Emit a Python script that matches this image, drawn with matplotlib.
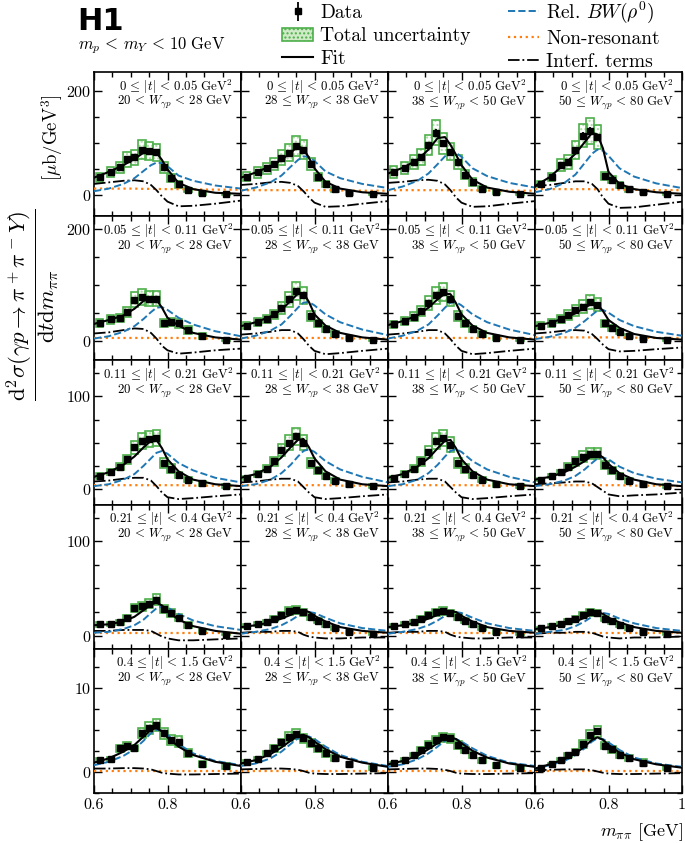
import matplotlib
matplotlib.use('Agg')
import matplotlib.pyplot as plt
from matplotlib.patches import Rectangle, Patch
from matplotlib.lines import Line2D
from matplotlib.ticker import MultipleLocator, FixedLocator, FixedFormatter

plt.rcParams['font.family'] = ['cmr10', 'DejaVu Serif']
plt.rcParams['mathtext.fontset'] = 'cm'
plt.rcParams['axes.formatter.use_mathtext'] = True
plt.rcParams['hatch.linewidth'] = 1.0

# ---------------- data ----------------
m_bins = [0.615, 0.645, 0.67, 0.69, 0.71, 0.73, 0.75, 0.77, 0.79, 0.81, 0.83, 0.855, 0.895, 0.96]
m_curve = [0.60, 0.64, 0.68, 0.71, 0.735, 0.755, 0.77, 0.785, 0.80, 0.83, 0.87, 0.93, 1.00]

t_labels = [r'0 \,\leq\, |t| \,<\, 0.05', r'0.05 \,\leq\, |t| \,<\, 0.11', r'0.11 \,\leq\, |t| \,<\, 0.21',
            r'0.21 \,\leq\, |t| \,<\, 0.4', r'0.4 \,\leq\, |t| \,<\, 1.5']
w_labels = [r'20 \,<\, W_{\gamma p} \,<\, 28', r'28 \,\leq\, W_{\gamma p} \,<\, 38',
            r'38 \,\leq\, W_{\gamma p} \,<\, 50', r'50 \,\leq\, W_{\gamma p} \,<\, 80']

# data points (rows = |t| bins, columns = W bins)
data_r1 = [[35, 45, 54, 69, 73, 88, 85, 83, 54, 34, 21, 10, 4, 3],
           [36, 44, 52, 60, 72, 82, 95, 88, 60, 36, 22, 12, 5, 3],
           [45, 53, 64, 74, 96, 120, 100, 84, 64, 40, 26, 13, 6, 3],
           [22, 36, 58, 64, 87, 115, 124, 112, 38, 30, 20, 12, 6, 3]]
data_r2 = [[33, 39, 42, 52, 74, 79, 76, 76, 33, 34, 32, 20, 9, 3],
           [28, 34, 40, 48, 60, 75, 90, 82, 45, 32, 22, 13, 6, 3],
           [30, 36, 44, 54, 68, 82, 88, 76, 45, 32, 22, 13, 6, 3],
           [28, 33, 40, 47, 55, 62, 70, 65, 32, 24, 17, 10, 5, 3]]
data_r3 = [[14, 18, 24, 32, 45, 52, 54, 55, 28, 22, 15, 10, 6, 3],
           [12, 16, 22, 30, 42, 50, 57, 50, 28, 20, 14, 9, 5, 3],
           [12, 16, 22, 30, 40, 52, 55, 48, 28, 22, 15, 10, 5, 3],
           [10, 14, 18, 24, 30, 35, 38, 38, 26, 20, 14, 9, 5, 3]]
data_r4 = [[12, 12, 14, 19, 29, 31, 34, 38, 28, 24, 19, 11, 5, 1],
           [10, 12, 14, 18, 22, 26, 27, 25, 20, 16, 12, 8, 4, 2],
           [10, 12, 14, 18, 22, 25, 26, 24, 20, 16, 12, 8, 4, 2],
           [8, 10, 12, 15, 18, 22, 25, 24, 18, 15, 11, 8, 4, 2]]
data_r5 = [[1.4, 1.5, 2.8, 3.1, 2.8, 4.6, 5.2, 5.6, 4.6, 3.8, 3.6, 2.2, 0.95, 0.7],
           [1.2, 1.5, 2.2, 2.8, 3.5, 4.2, 4.5, 4.0, 3.4, 2.8, 2.2, 1.6, 0.9, 0.5],
           [1.0, 1.4, 2.0, 2.6, 3.2, 3.8, 4.1, 4.0, 3.2, 2.6, 2.0, 1.4, 0.8, 0.5],
           [0.44, 0.95, 1.4, 2.0, 2.4, 3.3, 4.4, 4.8, 3.1, 2.7, 2.0, 1.6, 1.1, 0.44]]

# relative total uncertainty and relative statistical error per |t| row
tot_rel = [[0.25, 0.22, 0.2, 0.2, 0.2, 0.2, 0.2, 0.2, 0.2, 0.22, 0.28, 0.4, 0.7, 0.8],
           [0.22, 0.2, 0.18, 0.18, 0.18, 0.18, 0.18, 0.18, 0.2, 0.2, 0.25, 0.35, 0.6, 0.8],
           [0.2, 0.18, 0.16, 0.16, 0.16, 0.16, 0.16, 0.16, 0.18, 0.2, 0.22, 0.3, 0.5, 0.7],
           [0.2, 0.18, 0.16, 0.16, 0.15, 0.15, 0.15, 0.15, 0.16, 0.18, 0.2, 0.28, 0.45, 0.8],
           [0.18, 0.16, 0.14, 0.14, 0.13, 0.13, 0.13, 0.13, 0.14, 0.15, 0.17, 0.22, 0.35, 0.5]]
stat_rel = [0.06, 0.06, 0.06, 0.06, 0.05]

# fit and components
fit_r1 = [[34, 45, 58, 70, 82, 87, 82, 68, 50, 24, 12, 5, 3],
          [34, 44, 56, 68, 82, 94, 90, 72, 52, 26, 13, 6, 3],
          [42, 53, 68, 88, 110, 112, 97, 78, 58, 30, 15, 7, 3],
          [18, 35, 60, 80, 102, 120, 117, 90, 45, 22, 12, 6, 3]]
bw_r1 = [[8, 13, 22, 33, 47, 58, 63, 62, 56, 38, 28, 19, 13],
         [9, 15, 25, 38, 55, 68, 75, 74, 66, 46, 33, 22, 14],
         [10, 17, 28, 42, 60, 75, 83, 82, 74, 52, 37, 24, 15],
         [6, 12, 24, 40, 62, 80, 88, 86, 76, 52, 36, 23, 14]]
nr_r1 = [[13, 13, 13, 13, 12.5, 12.5, 12.5, 12, 12, 12, 11.5, 11, 11],
         [10, 10, 10, 10, 10, 10, 10, 10, 10, 10, 9.5, 9, 9],
         [10, 10, 10, 10, 10, 10, 10, 10, 10, 10, 9.5, 9, 9],
         [12, 12, 12, 12, 12, 12, 11.5, 11.5, 11.5, 11, 10.5, 10, 10]]
int_r1 = [[22, 25, 28, 29, 27, 20, 10, -2, -12, -21, -20, -16, -10],
          [20, 22, 25, 26, 24, 18, 8, -4, -14, -22, -21, -16, -11],
          [24, 26, 29, 30, 28, 21, 10, -4, -14, -22, -21, -16, -11],
          [18, 20, 24, 27, 27, 22, 12, -4, -16, -24, -23, -18, -12]]

fit_r2 = [[31, 38, 46, 58, 72, 78, 74, 60, 42, 28, 15, 7, 3],
          [27, 34, 44, 56, 72, 85, 86, 70, 48, 28, 15, 7, 3],
          [29, 36, 46, 60, 75, 85, 84, 68, 48, 28, 15, 7, 3],
          [27, 33, 41, 50, 60, 67, 66, 54, 38, 24, 13, 6, 3]]
bw_r2 = [[5, 9, 17, 27, 40, 52, 60, 61, 56, 42, 30, 18, 9],
         [5, 10, 19, 30, 46, 60, 69, 70, 64, 48, 34, 21, 11],
         [5, 10, 19, 30, 46, 60, 69, 70, 64, 48, 34, 21, 11],
         [4, 8, 15, 24, 36, 47, 55, 56, 51, 38, 27, 17, 10]]
nr_r2 = [[6, 6, 6, 6, 6, 6, 6, 6, 6, 6, 5.5, 5, 5],
         [6, 6, 6, 6, 6, 6, 6, 6, 6, 6, 5.5, 5, 5],
         [6, 6, 6, 6, 6, 6, 6, 6, 6, 6, 5.5, 5, 5],
         [7, 7, 7, 7, 7, 7, 7, 7, 7, 7, 6.5, 6, 6]]
int_r2 = [[14, 16, 20, 23, 22, 15, 5, -8, -16, -22, -20, -16, -13],
          [12, 14, 17, 20, 20, 14, 4, -8, -17, -23, -21, -17, -13],
          [12, 14, 17, 20, 20, 14, 4, -8, -17, -23, -21, -17, -13],
          [14, 16, 19, 20, 19, 13, 4, -6, -14, -18, -17, -14, -11]]

fit_r3 = [[13, 18, 26, 35, 45, 52, 53, 44, 32, 19, 10, 5, 3],
          [12, 16, 24, 34, 45, 53, 54, 45, 33, 19, 10, 5, 3],
          [12, 16, 24, 33, 44, 52, 53, 44, 32, 19, 10, 5, 3],
          [10, 13, 18, 24, 30, 36, 38, 34, 27, 17, 10, 5, 3]]
bw_r3 = [[3, 5, 10, 16, 25, 33, 39, 41, 38, 28, 20, 12, 7],
         [3, 5, 10, 17, 26, 35, 41, 43, 40, 30, 21, 13, 7],
         [3, 5, 10, 17, 26, 35, 41, 43, 40, 30, 21, 13, 7],
         [3, 5, 9, 14, 21, 28, 33, 34, 32, 24, 17, 11, 7]]
nr_r3 = [[4, 4, 4, 4, 4, 4, 4, 4, 4, 4, 3.5, 3.5, 3],
         [4, 4, 4, 4, 4, 4, 4, 4, 4, 4, 3.5, 3.5, 3],
         [4, 4, 4, 4, 4, 4, 4, 4, 4, 4, 3.5, 3.5, 3],
         [4, 4, 4, 4, 4, 4, 4, 4, 4, 4, 3.5, 3.5, 3]]
int_r3 = [[8, 9, 11, 12, 12, 9, 3, -4, -9, -11, -10, -8, -6],
          [7, 8, 10, 11, 11, 8, 2, -4, -9, -11, -10, -8, -6],
          [7, 8, 10, 11, 11, 8, 2, -4, -9, -11, -10, -8, -6],
          [5, 6, 7, 8, 8, 6, 2, -2, -6, -8, -7, -6, -4]]

fit_r4 = [[11, 12, 15, 20, 27, 33, 35, 32, 26, 17, 10, 5, 2],
          [9, 11, 14, 18, 22, 26, 27, 25, 21, 15, 9, 5, 3],
          [9, 11, 14, 18, 22, 25, 26, 25, 21, 15, 9, 5, 3],
          [7, 9, 12, 15, 19, 23, 25, 23, 19, 14, 9, 5, 3]]
bw_r4 = [[3, 4, 7, 11, 17, 24, 29, 31, 30, 23, 16, 10, 6],
         [2, 4, 7, 11, 16, 21, 24, 25, 24, 19, 13, 8, 5],
         [2, 4, 7, 11, 16, 21, 24, 25, 24, 19, 13, 8, 5],
         [2, 4, 6, 10, 15, 20, 23, 24, 23, 18, 13, 8, 5]]
nr_r4 = [[3, 3, 3, 3, 3, 3, 3, 3, 3, 3, 3, 3, 3],
         [3, 3, 3, 3, 3, 3, 3, 3, 3, 3, 3, 3, 3],
         [3, 3, 3, 3, 3, 3, 3, 3, 3, 3, 3, 3, 3],
         [3, 3, 3, 3, 3, 3, 3, 3, 3, 3, 3, 3, 3]]
int_r4 = [[5, 5, 6, 6, 6, 5, 2, -1, -3, -5, -5, -4, -3],
          [3, 4, 4, 5, 5, 4, 1, -1, -2, -3, -3, -2, -2],
          [3, 4, 4, 5, 5, 4, 1, -1, -2, -3, -3, -2, -2],
          [2, 3, 3, 4, 4, 3, 1, -1, -2, -3, -2, -2, -1]]

fit_r5 = [[1.1, 1.6, 2.4, 3.2, 4.2, 5.0, 5.2, 4.8, 4.1, 3.0, 2.0, 1.2, 0.7],
          [1.0, 1.4, 2.1, 2.9, 3.7, 4.3, 4.4, 4.1, 3.6, 2.7, 1.8, 1.1, 0.6],
          [0.9, 1.3, 1.9, 2.7, 3.4, 4.0, 4.1, 3.9, 3.4, 2.5, 1.7, 1.0, 0.6],
          [0.4, 0.9, 1.5, 2.2, 3.0, 3.8, 4.1, 3.8, 3.2, 2.3, 1.5, 0.9, 0.5]]
bw_r5 = [[0.8, 1.2, 1.9, 2.7, 3.7, 4.6, 5.0, 4.9, 4.4, 3.3, 2.2, 1.3, 0.8],
         [0.7, 1.0, 1.6, 2.4, 3.3, 4.0, 4.3, 4.2, 3.9, 3.0, 2.0, 1.2, 0.7],
         [0.6, 0.9, 1.5, 2.2, 3.0, 3.7, 4.0, 3.9, 3.6, 2.8, 1.9, 1.1, 0.7],
         [0.4, 0.8, 1.3, 2.0, 2.8, 3.6, 4.0, 3.9, 3.5, 2.6, 1.7, 1.0, 0.6]]
nr_r5 = [[0.1, 0.1, 0.1, 0.1, 0.1, 0.1, 0.1, 0.1, 0.1, 0.1, 0.1, 0.1, 0.1],
         [0.1, 0.1, 0.1, 0.1, 0.1, 0.1, 0.1, 0.1, 0.1, 0.1, 0.1, 0.1, 0.1],
         [0.1, 0.1, 0.1, 0.1, 0.1, 0.1, 0.1, 0.1, 0.1, 0.1, 0.1, 0.1, 0.1],
         [0.1, 0.1, 0.1, 0.1, 0.1, 0.1, 0.1, 0.1, 0.1, 0.1, 0.1, 0.1, 0.1]]
int_r5 = [[0.4, 0.4, 0.45, 0.45, 0.4, 0.3, 0.1, -0.1, -0.2, -0.3, -0.3, -0.25, -0.2],
          [0.3, 0.35, 0.4, 0.4, 0.35, 0.25, 0.1, -0.1, -0.2, -0.25, -0.25, -0.2, -0.15],
          [0.3, 0.35, 0.4, 0.4, 0.35, 0.25, 0.1, -0.1, -0.2, -0.25, -0.25, -0.2, -0.15],
          [0.2, 0.25, 0.3, 0.3, 0.3, 0.2, 0.05, -0.1, -0.2, -0.25, -0.25, -0.2, -0.15]]

data_rows = [data_r1, data_r2, data_r3, data_r4, data_r5]
fit_rows = [fit_r1, fit_r2, fit_r3, fit_r4, fit_r5]
bw_rows = [bw_r1, bw_r2, bw_r3, bw_r4, bw_r5]
nr_rows = [nr_r1, nr_r2, nr_r3, nr_r4, nr_r5]
int_rows = [int_r1, int_r2, int_r3, int_r4, int_r5]

ylims = [(-40, 237), (-34, 223), (-17, 139), (-14, 139), (-2.5, 14.6)]
y_major = [200, 200, 100, 100, 10]
y_minor = [50, 50, 25, 25, 2.5]

# ---------------- figure ----------------
fig = plt.figure(figsize=(6.85, 8.43), dpi=100)
gs = fig.add_gridspec(5, 4, left=94/685, right=682/685, top=1-72/843, bottom=1-793/843,
                      wspace=0, hspace=0)

GREEN = '#4daf4a'
HATCH = '#a9d99f'
BLUE = '#1f77b4'
ORANGE = '#ff7f0e'
box_w = 0.021

err_handle = None
for r in range(5):
    for c in range(4):
        ax = fig.add_subplot(gs[r, c])
        vals = data_rows[r][c]
        for i, (m, v) in enumerate(zip(m_bins, vals)):
            u = tot_rel[r][i] * v
            ax.add_patch(Rectangle((m - box_w/2, v - u), box_w, 2*u, facecolor='none',
                                   edgecolor=HATCH, hatch='....', lw=0, zorder=2))
            ax.add_patch(Rectangle((m - box_w/2, v - u), box_w, 2*u, facecolor='none',
                                   edgecolor=GREEN, lw=1.2, zorder=2.1))
        ax.plot(m_curve, nr_rows[r][c], ls=':', color=ORANGE, lw=1.6, zorder=3)
        ax.plot(m_curve, int_rows[r][c], ls='-.', color='black', lw=1.3, zorder=3)
        ax.plot(m_curve, bw_rows[r][c], ls='--', color=BLUE, lw=1.4, zorder=3)
        ax.plot(m_curve, fit_rows[r][c], ls='-', color='black', lw=1.5, zorder=3.5)
        eb = ax.errorbar(m_bins, vals, yerr=[stat_rel[r]*v for v in vals], fmt='s',
                         color='black', ms=5, elinewidth=1.3, capsize=0, zorder=4)
        if err_handle is None:
            err_handle = eb

        ax.set_xlim(0.6, 1.0)
        ax.set_ylim(*ylims[r])
        ax.xaxis.set_major_locator(FixedLocator([0.6, 0.8, 1.0]))
        ax.xaxis.set_minor_locator(MultipleLocator(0.05))
        ax.yaxis.set_major_locator(MultipleLocator(y_major[r]))
        ax.yaxis.set_minor_locator(MultipleLocator(y_minor[r]))
        ax.tick_params(which='both', direction='in', top=True, right=True,
                       labelsize=11.5, width=1.0)
        ax.tick_params(axis='y', which='major', pad=2)
        ax.tick_params(which='major', length=6)
        ax.tick_params(which='minor', length=3.5)
        for s in ax.spines.values():
            s.set_linewidth(1.2)
        if r == 4:
            labs = ['0.6', '0.8', '1'] if c == 3 else ['0.6', '0.8', '']
            ax.xaxis.set_major_formatter(FixedFormatter(labs))
        else:
            ax.set_xticklabels([])
        if c != 0:
            ax.set_yticklabels([])

        ax.text(0.945, 0.90, r'$' + t_labels[r] + r'\ \mathrm{GeV}^2$', transform=ax.transAxes,
                ha='right', va='center', fontsize=9.3)
        ax.text(0.945, 0.786, r'$' + w_labels[c] + r'\ \mathrm{GeV}$', transform=ax.transAxes,
                ha='right', va='center', fontsize=9.3)

# header
fig.text(77/685, 1-21/843, 'H1', fontsize=22, fontweight='bold',
         family='DejaVu Sans', va='center', ha='left')
fig.text(78/685, 1-46/843, r'$m_p \,<\, m_Y \,<\, 10\ \mathrm{GeV}$', fontsize=12,
         va='center', ha='left')

handles = [err_handle,
           Patch(facecolor='#cfeac6', edgecolor=GREEN, hatch='....', lw=1.2),
           Line2D([], [], color='black', lw=1.5),
           Line2D([], [], color=BLUE, ls='--', lw=1.4),
           Line2D([], [], color=ORANGE, ls=':', lw=1.6),
           Line2D([], [], color='black', ls='-.', lw=1.3)]
labels = ['Data', 'Total uncertainty', 'Fit', r'Rel. $BW(\rho^0)$', 'Non-resonant', 'Interf. terms']
fig.legend(handles, labels, ncol=2, loc='upper left', bbox_to_anchor=(282/685, 1-0/843),
           frameon=False, fontsize=14, handlelength=1.6, handletextpad=0.35,
           columnspacing=1.95, labelspacing=0.25, borderpad=0.0, borderaxespad=0.0)

fig.text(33/685, 1-305/843,
         r'$\dfrac{\mathrm{d}^2\sigma(\gamma p \rightarrow \pi^+\pi^- Y)}{\mathrm{d}t\mathrm{d}m_{\pi\pi}}$',
         rotation=90, ha='center', va='center', fontsize=16.5)
fig.text(52/685, 1-138/843, r'$[\mu\mathrm{b}/\mathrm{GeV}^3]$', rotation=90,
         ha='center', va='center', fontsize=13.5)
fig.text(683/685, 1-832/843, r'$m_{\pi\pi}$ [GeV]', ha='right', va='center', fontsize=13)

fig.savefig('out.png', dpi=100)
